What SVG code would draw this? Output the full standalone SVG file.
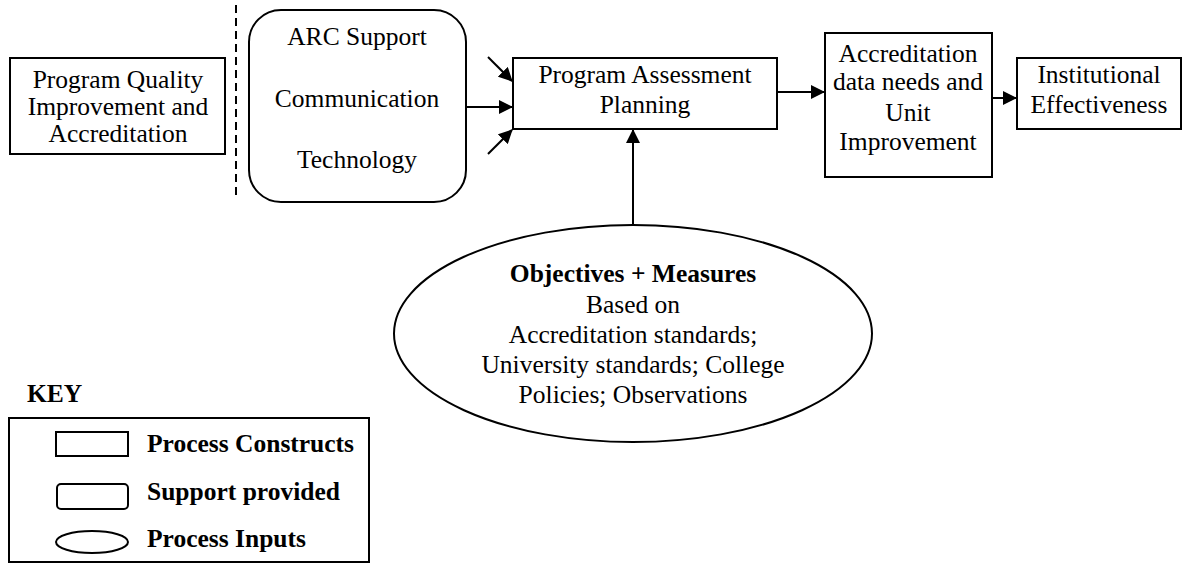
<svg xmlns="http://www.w3.org/2000/svg" width="1187" height="563" viewBox="0 0 1187 563">
<style>
.s{fill:#fff;stroke:#000;stroke-width:2}
.t{font-family:"Liberation Serif","Times New Roman",serif;font-size:25.5px;fill:#000;text-anchor:middle}
.b{font-weight:bold}
.l{text-anchor:start}
.c{stroke:#000;stroke-width:2;fill:none}
</style>
<defs>
<marker id="ah2" markerWidth="14" markerHeight="14" refX="13" refY="7" orient="auto" markerUnits="userSpaceOnUse" viewBox="0 0 14 14">
<path d="M0,0 L14,7 L0,14 Z" fill="#000"/>
</marker>
</defs>
<rect width="1187" height="563" fill="#fff"/>
<g id="connectors">
<line x1="236" y1="5" x2="236" y2="200" stroke="#000" stroke-width="2" stroke-dasharray="8,5"/>
<line class="c" x1="466" y1="107" x2="512" y2="107" marker-end="url(#ah2)"/>
<line class="c" x1="488" y1="57" x2="512" y2="81" marker-end="url(#ah2)"/>
<line class="c" x1="488" y1="154" x2="512" y2="130" marker-end="url(#ah2)"/>
<line class="c" x1="777" y1="92" x2="824" y2="92" marker-end="url(#ah2)"/>
<line class="c" x1="992" y1="98" x2="1016" y2="98" marker-end="url(#ah2)"/>
<line class="c" x1="633" y1="225" x2="633" y2="130" marker-end="url(#ah2)"/>
</g>
<g id="node-pqia">
<rect class="s" x="10" y="58" width="215" height="96"/>
<text class="t" x="118" y="88">Program Quality</text>
<text class="t" x="118" y="115">Improvement and</text>
<text class="t" x="118" y="142">Accreditation</text>
</g>
<g id="node-support">
<rect class="s" x="249" y="10" width="217" height="192" rx="32"/>
<text class="t" x="357" y="45">ARC Support</text>
<text class="t" x="357" y="107">Communication</text>
<text class="t" x="357" y="168">Technology</text>
</g>
<g id="node-pap">
<rect class="s" x="513" y="58" width="264" height="71"/>
<text class="t" x="645" y="83">Program Assessment</text>
<text class="t" x="645" y="113">Planning</text>
</g>
<g id="node-accr">
<rect class="s" x="825" y="33" width="167" height="144"/>
<text class="t" x="908" y="62">Accreditation</text>
<text class="t" x="908" y="90">data needs and</text>
<text class="t" x="908" y="121">Unit</text>
<text class="t" x="908" y="150">Improvement</text>
</g>
<g id="node-ie">
<rect class="s" x="1017" y="58" width="164" height="71"/>
<text class="t" x="1099" y="83">Institutional</text>
<text class="t" x="1099" y="113">Effectiveness</text>
</g>
<g id="node-objectives">
<ellipse class="s" cx="633" cy="333.5" rx="239" ry="108.5"/>
<text class="t b" x="633" y="282">Objectives + Measures</text>
<text class="t" x="633" y="313">Based on</text>
<text class="t" x="633" y="343">Accreditation standards;</text>
<text class="t" x="633" y="373">University standards; College</text>
<text class="t" x="633" y="403">Policies; Observations</text>
</g>
<g id="key">
<text class="t b l" x="27" y="402">KEY</text>
<rect class="s" x="9" y="418" width="360" height="144"/>
<rect class="s" x="56" y="432" width="72" height="24"/>
<text class="t b l" x="147" y="452">Process Constructs</text>
<rect class="s" x="57" y="484" width="71" height="25" rx="4"/>
<text class="t b l" x="147" y="500">Support provided</text>
<ellipse class="s" cx="92" cy="542" rx="36" ry="11"/>
<text class="t b l" x="147" y="547">Process Inputs</text>
</g>
</svg>
